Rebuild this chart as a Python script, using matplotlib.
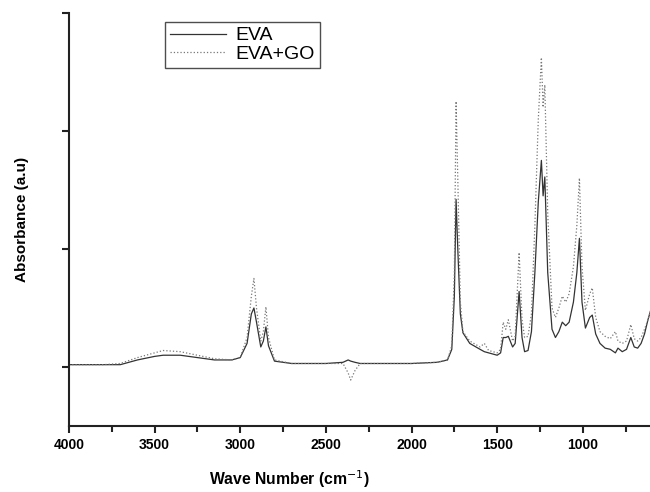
import matplotlib.pyplot as plt
from matplotlib.ticker import MultipleLocator, NullFormatter

plt.rcParams['font.family'] = ['Liberation Sans', 'DejaVu Sans']

# wave numbers (cm-1)
wavenumber = [
    4000, 3800, 3700, 3600, 3500, 3450, 3350, 3250, 3150, 3050,
    3000, 2960, 2935, 2920, 2905, 2880, 2865, 2850, 2835, 2800,
    2700, 2500, 2400, 2370, 2355, 2330, 2300, 2000, 1850, 1790,
    1765, 1750, 1740, 1730, 1715, 1700, 1660, 1600, 1575, 1550,
    1500, 1480, 1465, 1450, 1435, 1410, 1395, 1372, 1355, 1340,
    1320, 1300, 1280, 1260, 1242, 1232, 1222, 1205, 1180, 1160,
    1140, 1120, 1100, 1080, 1055, 1035, 1020, 1005, 985, 960,
    945, 925, 900, 870, 840, 810, 795, 770, 745, 720,
    700, 680, 660, 640, 620, 600,
]
eva = [
    0.02, 0.02, 0.02, 0.06, 0.09, 0.10, 0.10, 0.08, 0.06, 0.06,
    0.08, 0.20, 0.45, 0.50, 0.38, 0.17, 0.22, 0.34, 0.18, 0.05,
    0.03, 0.03, 0.04, 0.06, 0.05, 0.04, 0.03, 0.03, 0.04, 0.06,
    0.15, 0.60, 1.42, 1.00, 0.45, 0.29, 0.20, 0.15, 0.13, 0.12,
    0.10, 0.12, 0.25, 0.25, 0.26, 0.17, 0.20, 0.64, 0.25, 0.13,
    0.14, 0.30, 0.80, 1.40, 1.75, 1.45, 1.61, 0.80, 0.32, 0.25,
    0.30, 0.38, 0.35, 0.38, 0.55, 0.80, 1.09, 0.55, 0.33, 0.42,
    0.44, 0.28, 0.20, 0.16, 0.15, 0.12, 0.16, 0.13, 0.15, 0.25,
    0.17, 0.16, 0.20, 0.28, 0.40, 0.50,
]
eva_go = [
    0.02, 0.02, 0.03, 0.08, 0.12, 0.14, 0.13, 0.10, 0.07, 0.06,
    0.08, 0.25, 0.60, 0.75, 0.50, 0.22, 0.30, 0.51, 0.25, 0.06,
    0.03, 0.03, 0.03, -0.05, -0.11, -0.03, 0.03, 0.03, 0.04, 0.06,
    0.18, 0.80, 2.25, 1.60, 0.55, 0.30, 0.22, 0.17, 0.20, 0.14,
    0.12, 0.15, 0.38, 0.32, 0.40, 0.22, 0.26, 0.97, 0.40, 0.25,
    0.26, 0.45, 1.20, 2.10, 2.62, 2.20, 2.39, 1.30, 0.50, 0.42,
    0.50, 0.60, 0.55, 0.62, 0.85, 1.20, 1.60, 0.85, 0.48, 0.62,
    0.67, 0.42, 0.30, 0.26, 0.24, 0.30, 0.22, 0.20, 0.22, 0.36,
    0.24, 0.22, 0.25, 0.32, 0.40, 0.50,
]

fig = plt.figure(figsize=(6.5, 4.92), dpi=100)
ax = fig.add_axes([0.106, 0.134, 0.894, 0.84])

ax.plot(wavenumber, eva, color='#333333', linewidth=0.9, label='EVA')
ax.plot(wavenumber, eva_go, color='#777777', linewidth=0.9, linestyle=':', label='EVA+GO')

ax.set_xlim(4000, 608)
ax.set_ylim(-0.5, 3)
ax.xaxis.set_major_locator(MultipleLocator(500))
ax.xaxis.set_minor_locator(MultipleLocator(250))
ax.yaxis.set_major_locator(MultipleLocator(1))
ax.yaxis.set_major_formatter(NullFormatter())

for s in ['top', 'right']:
    ax.spines[s].set_visible(False)
for s in ['left', 'bottom']:
    ax.spines[s].set_linewidth(1.5)
    ax.spines[s].set_color('#222222')

ax.tick_params(axis='both', which='major', direction='out', length=5, width=1.5, color='#222222')
ax.tick_params(axis='x', which='minor', direction='out', length=4, width=1.5, color='#222222')
ax.tick_params(axis='y', which='minor', left=False)
for lab in ax.get_xticklabels():
    lab.set_fontweight('bold')
    lab.set_fontsize(10)

ax.set_xlabel('Wave Number (cm$^{-1}$)', fontsize=11.3, fontweight='bold')
ax.xaxis.set_label_coords(0.379, -0.102)
ax.set_ylabel('Absorbance (a.u)', fontsize=11, fontweight='bold', labelpad=20)

leg = ax.legend(loc='upper left', bbox_to_anchor=(0.165, 0.978), fontsize=14,
                frameon=True, fancybox=False, borderpad=0.25, handlelength=2.9,
                handletextpad=0.5, labelspacing=0.05, borderaxespad=0)
leg.get_frame().set_edgecolor('#222222')
leg.get_frame().set_linewidth(1.0)

plt.savefig('out.png', dpi=100)
